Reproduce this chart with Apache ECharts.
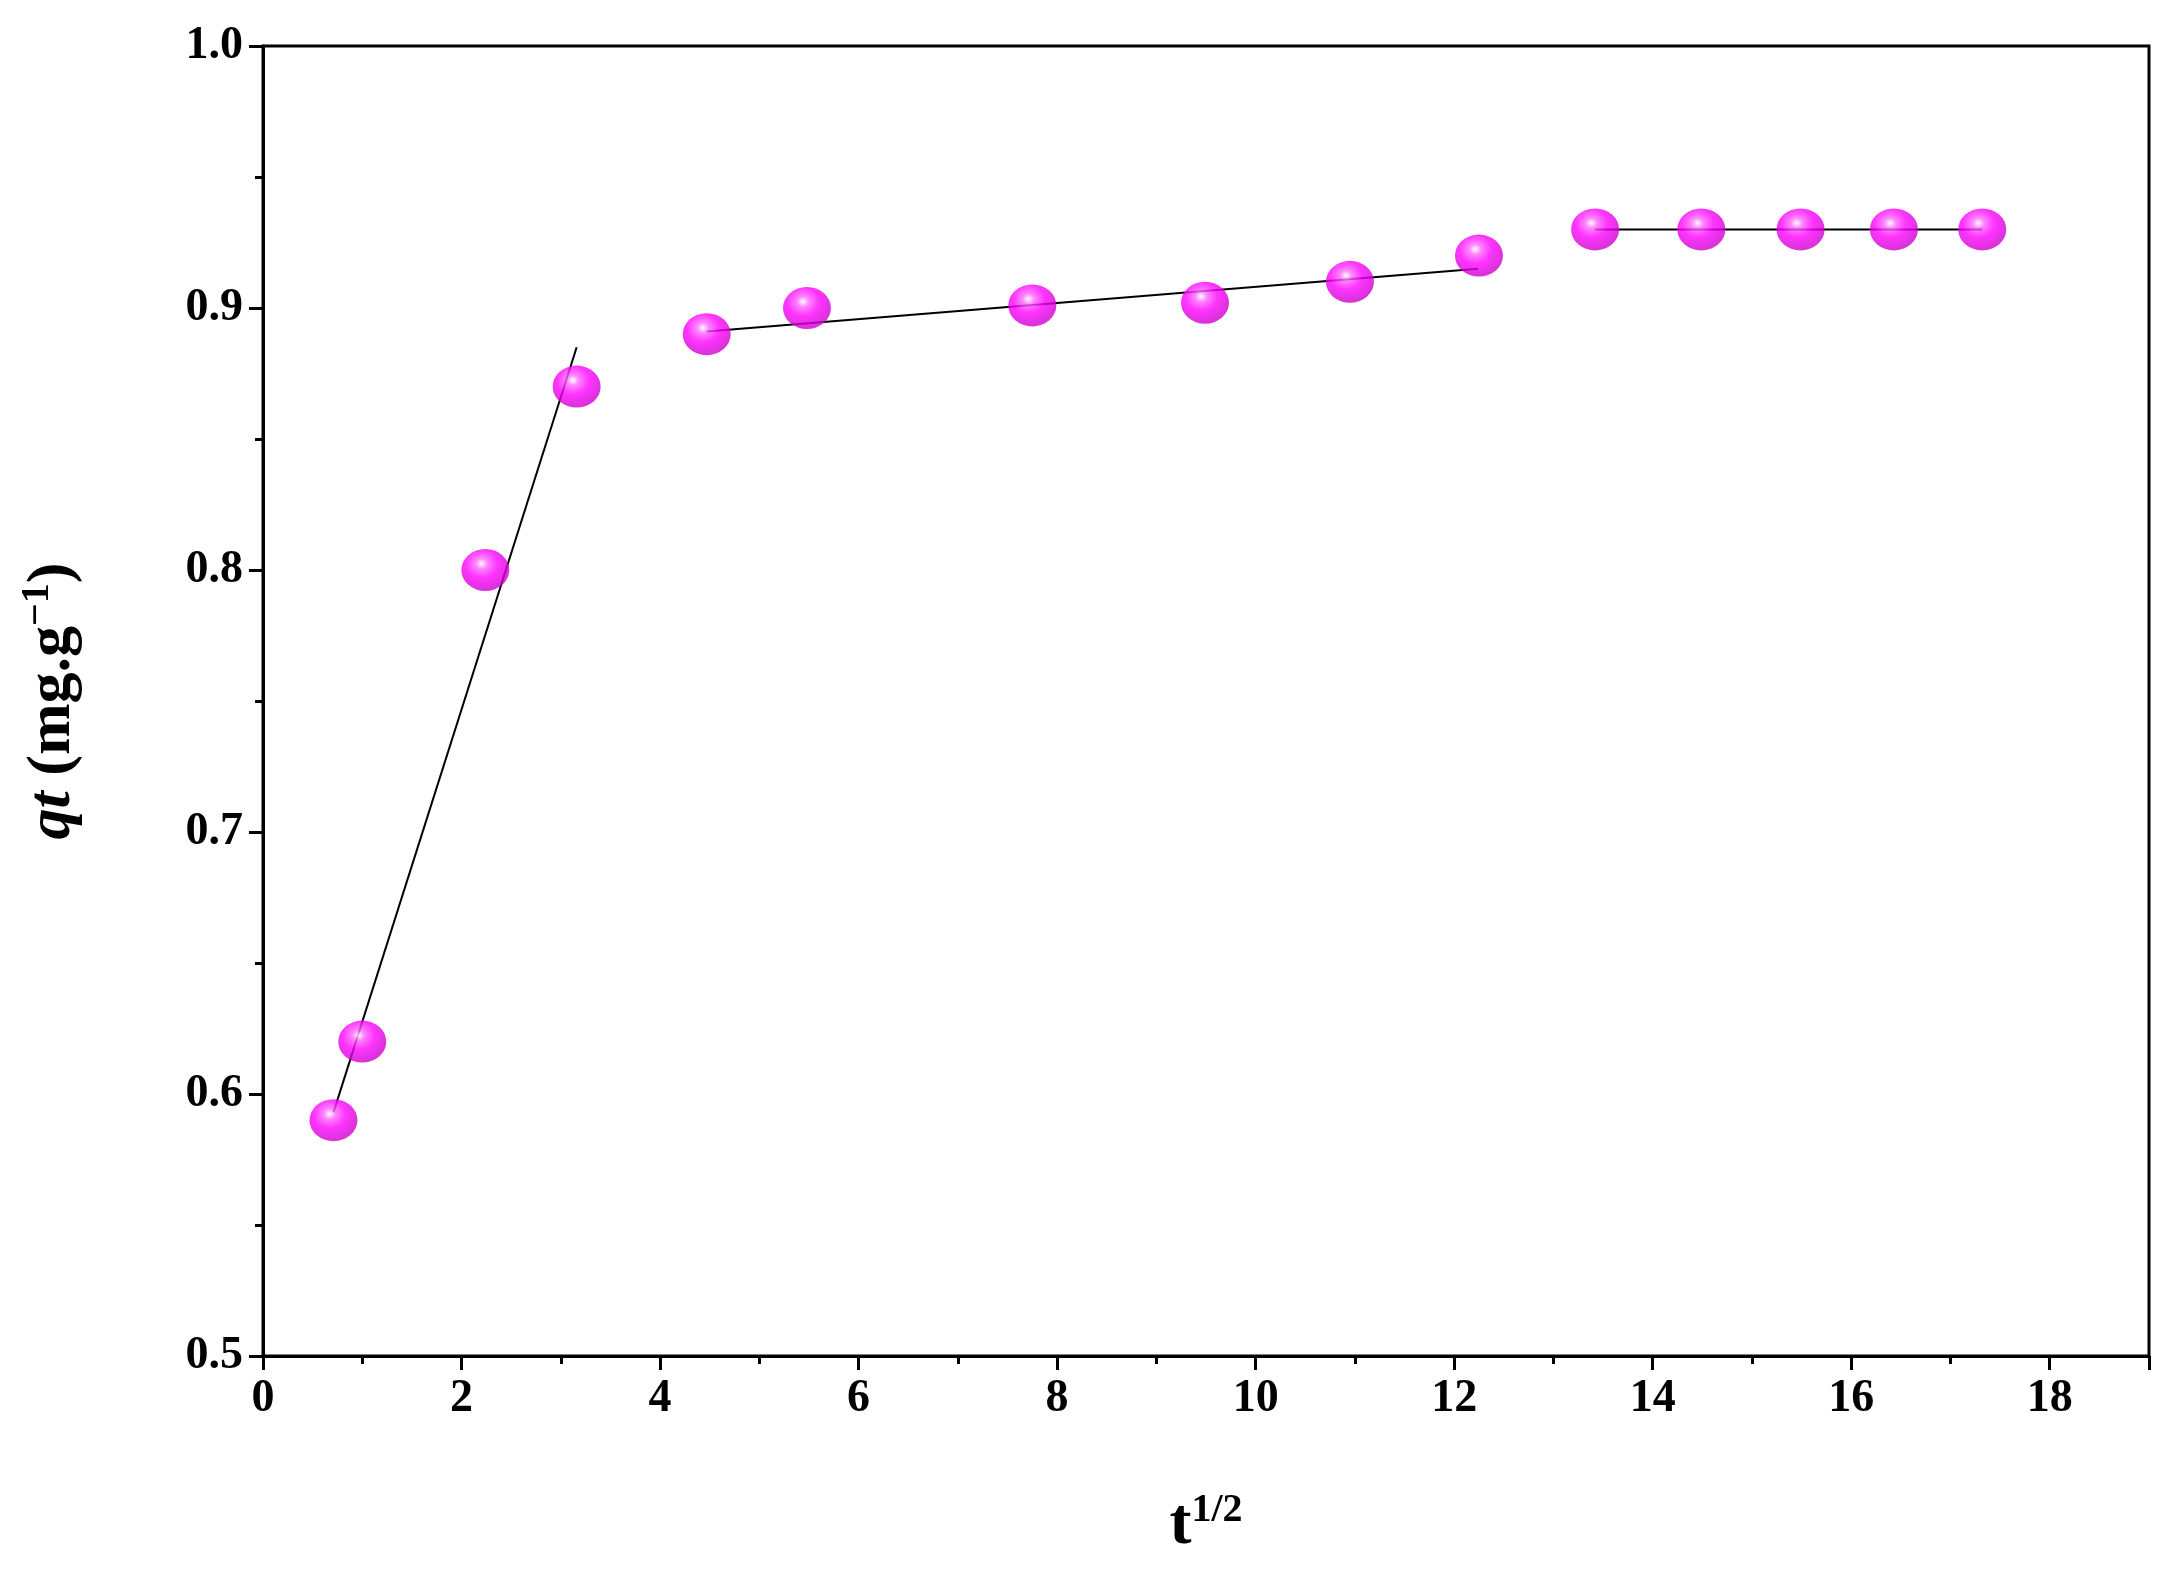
<!doctype html>
<html>
<head>
<meta charset="UTF-8">
<script src="https://cdn.jsdelivr.net/npm/echarts@6/dist/echarts.min.js"></script>
<style>html,body{margin:0;background:#fff}#main{width:2179px;height:1576px}</style>
</head>
<body>
<div id="main"></div>
<script>
// data
var tHalf = [0.71, 1.0, 2.24, 3.16, 4.47, 5.48, 7.75, 9.49, 10.95, 12.25, 13.42, 14.49, 15.49, 16.43, 17.32];
var qt = [0.59, 0.62, 0.80, 0.87, 0.89, 0.90, 0.901, 0.902, 0.91, 0.92, 0.93, 0.93, 0.93, 0.93, 0.93];
var fit1 = [[0.71, 0.593], [3.16, 0.885]];
var fit2 = [[4.47, 0.891], [12.24, 0.915]];
var fit3 = [[13.42, 0.93], [17.32, 0.93]];

var chart = echarts.init(document.getElementById('main'));
var font = '"Liberation Serif", "Times New Roman", serif';
var sphere = new echarts.graphic.RadialGradient(0.42, 0.35, 0.62, [
    {offset: 0, color: '#ffffff'},
    {offset: 0.2, color: '#ff66ff'},
    {offset: 0.55, color: '#ff00ff'},
    {offset: 1, color: '#d000d0'}
]);
var fitLine = function (d) {
    return {type: 'line', data: d, symbol: 'none', lineStyle: {color: '#000', width: 2}, z: 1};
};
var label = {fontFamily: font, fontWeight: 'bold', fontSize: 46, color: '#000', margin: 20};
chart.setOption({
    animation: false,
    grid: {left: 263, right: 30, top: 46, bottom: 220, show: true, borderColor: '#000', borderWidth: 3},
    xAxis: {
        type: 'value', min: 0, max: 19, interval: 2,
        name: '{t|t}{s|1/2}', nameLocation: 'middle', nameGap: 135,
        nameTextStyle: {rich: {
            t: {fontFamily: font, fontWeight: 'bold', fontSize: 66, color: '#000'},
            s: {fontFamily: font, fontWeight: 'bold', fontSize: 40, color: '#000', verticalAlign: 'top', padding: [0, 0, 30, 0]}
        }},
        axisLine: {lineStyle: {color: '#000', width: 3}},
        axisTick: {length: 14, lineStyle: {width: 3, color: '#000'}},
        minorTick: {show: true, splitNumber: 2, length: 8, lineStyle: {width: 3, color: '#000'}},
        splitLine: {show: false},
        axisLabel: Object.assign({}, label, {formatter: function (v) { return v > 18 ? '' : v; }})
    },
    yAxis: {
        type: 'value', min: 0.5, max: 1.0, interval: 0.1,
        name: '{i|qt}{n| (mg.g}{s|−1}{n|)}', nameLocation: 'middle', nameGap: 175,
        nameTextStyle: {rich: {
            i: {fontFamily: font, fontWeight: 'bold', fontStyle: 'italic', fontSize: 62, color: '#000'},
            n: {fontFamily: font, fontWeight: 'bold', fontSize: 62, color: '#000'},
            s: {fontFamily: font, fontWeight: 'bold', fontSize: 40, color: '#000', verticalAlign: 'top', padding: [0, 0, 30, 0]}
        }},
        axisLine: {lineStyle: {color: '#000', width: 3}},
        axisTick: {length: 14, lineStyle: {width: 3, color: '#000'}},
        minorTick: {show: true, splitNumber: 2, length: 8, lineStyle: {width: 3, color: '#000'}},
        splitLine: {show: false},
        axisLabel: Object.assign({}, label, {formatter: function (v) { return v.toFixed(1); }})
    },
    series: [
        fitLine(fit1), fitLine(fit2), fitLine(fit3),
        {
            type: 'scatter', z: 2,
            data: tHalf.map(function (x, i) { return [x, qt[i]]; }),
            symbol: 'circle', symbolSize: [48, 42],
            itemStyle: {color: sphere}
        }
    ]
});
</script>
</body>
</html>
